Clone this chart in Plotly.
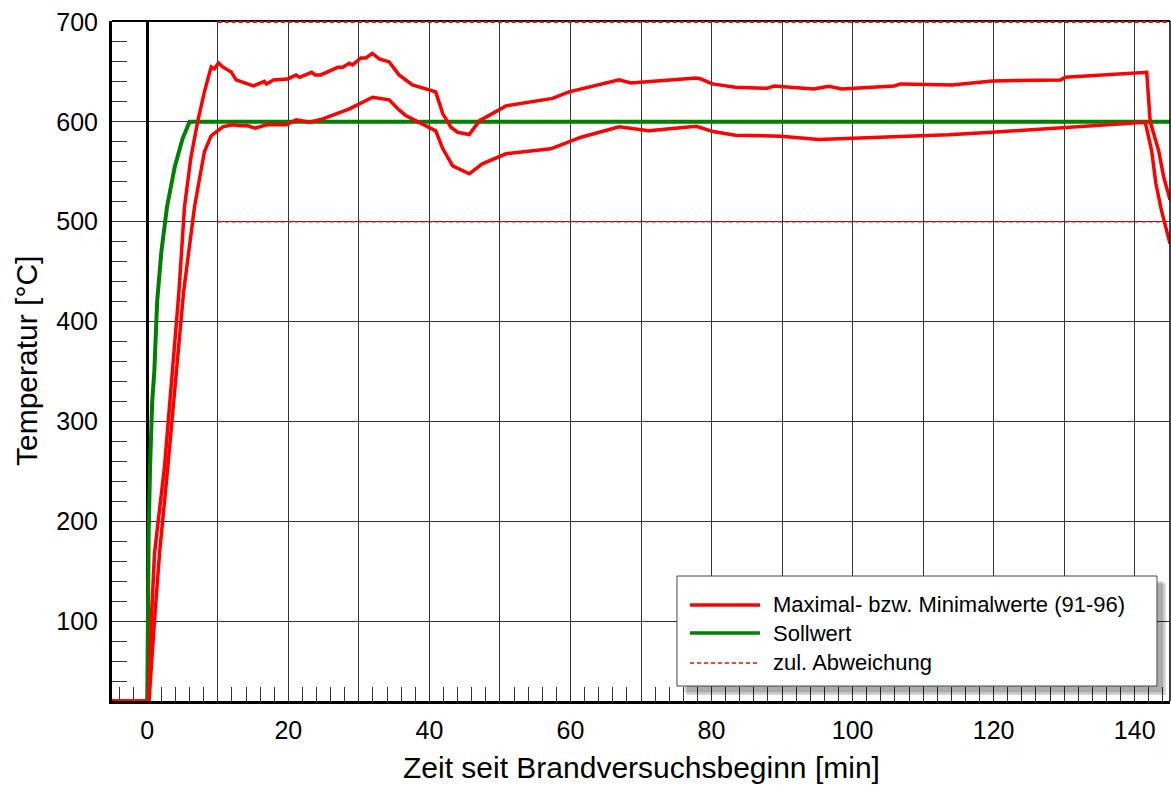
import plotly.graph_objects as go

# ---------------- data ----------------
max_t = [-5, 0, 0.2, 0.57, 1.03, 2.45, 3.4, 4.48, 5.28, 6.2, 7.17, 8.1, 9.06, 9.5, 10.1, 10.7,
         11.9, 12.6, 15.06, 16.6, 16.9, 17.9, 19.9, 21.1, 21.6, 23.3, 23.8, 24.6, 27.0, 27.7,
         28.65, 29.1, 30.3, 31.0, 31.9, 32.9, 34.3, 35.7, 37.6, 40.9, 41.9, 43.06, 44.0, 45.65,
         47.07, 50.85, 57.45, 59.8, 66.9, 68.55, 77.8, 78.5, 80.1, 83.4, 87.9, 88.85, 94.5, 96.6,
         98.5, 105.9, 106.8, 114.1, 119.8, 129.5, 130.2, 141.7, 142.2, 143.4, 144.1, 145]
max_T = [20, 20, 20, 101, 168, 255, 341, 429, 515, 565, 601, 630, 655, 653, 659, 655,
         650, 642, 636, 640.6, 638, 642, 643, 647, 644.6, 649.6, 647, 647, 654.6, 654.6,
         658.6, 657, 664, 664, 668.6, 663, 660, 647, 637, 630, 608, 594.6, 589.6, 587.3,
         601, 616, 623.5, 630, 642, 639, 644, 643, 638, 634.6, 633.6, 636, 633, 635.6,
         633, 636, 638, 637, 641, 642, 644.6, 649.6, 600, 571, 545, 522]

min_t = [-5, 0, 0.25, 1.03, 1.74, 2.92, 4.0, 5.14, 6.7, 8.1, 9.06, 10.7, 12.1, 13.1, 14.25,
         15.3, 16.9, 19.7, 21.1, 23.0, 24.9, 28.65, 31.95, 34.3, 35.7, 36.7, 40.9, 41.9, 43.3,
         45.65, 47.5, 50.85, 57.2, 61.5, 66.9, 71.1, 77.8, 80.4, 83.4, 89.8, 95.2, 99.9, 109.9,
         113.6, 119.8, 129.9, 141.5, 142.4, 143.0, 143.8, 144.8, 145]
min_T = [20, 20, 20, 101, 168, 255, 341, 429, 515, 570, 586, 595, 597, 596, 596,
         593.6, 597, 597, 602, 599.6, 603, 613, 624.6, 622, 612, 606, 591, 573, 556,
         548, 558, 568, 573, 584.6, 595, 591, 595.6, 590, 586.6, 585.6, 582.4, 583.7, 585.6,
         587, 589.6, 594.6, 599.6, 571, 538, 511, 483, 478]

soll_t = [0, 0.1, 0.2, 0.4, 0.7, 1.0, 1.4, 2.0, 2.8, 3.9, 5.0, 6.0, 145]
soll_T = [20, 120, 190, 255, 320, 350, 420, 470, 515, 555, 583, 600, 600]

tol_t = [10, 145]
tol_lo = [500, 500]
tol_hi = [700, 700]

x_tickvals = [0, 10, 20, 30, 40, 50, 60, 70, 80, 90, 100, 110, 120, 130, 140]
x_ticktext = ["0", "", "20", "", "40", "", "60", "", "80", "", "100", "", "120", "", "140"]
y_tickvals = [100, 200, 300, 400, 500, 600, 700]
y_ticktext = ["100", "200", "300", "400", "500", "600", "700"]

legend_labels = ["Maximal- bzw. Minimalwerte (91-96)", "Sollwert", "zul. Abweichung"]

RED = "#ff0000"
GREEN = "#008000"
FONT = "Liberation Sans, Arial, Helvetica, sans-serif"

# ---------------- figure ----------------
fig = go.Figure()
fig.add_trace(go.Scatter(x=tol_t, y=tol_lo, mode="lines",
                         line=dict(color=RED, width=1.5, dash="4px,3px"), showlegend=False))
fig.add_trace(go.Scatter(x=tol_t, y=tol_hi, mode="lines",
                         line=dict(color=RED, width=2, dash="4px,3px"), showlegend=False))
fig.add_trace(go.Scatter(x=soll_t, y=soll_T, mode="lines",
                         line=dict(color=GREEN, width=4), showlegend=False))
fig.add_trace(go.Scatter(x=max_t, y=max_T, mode="lines",
                         line=dict(color=RED, width=3.5), showlegend=False))
fig.add_trace(go.Scatter(x=min_t, y=min_T, mode="lines",
                         line=dict(color=RED, width=3.5), showlegend=False))

fig.update_xaxes(
    range=[-5, 145], tickmode="array", tickvals=x_tickvals, ticktext=x_ticktext,
    showgrid=True, gridcolor="#333333", gridwidth=1,
    zeroline=True, zerolinecolor="black", zerolinewidth=3,
    showline=True, linecolor="black", linewidth=3, mirror=False,
    ticks="inside", ticklen=14, tickcolor="#333333", tickwidth=1,
    minor=dict(dtick=2, tick0=0, ticks="inside", ticklen=14, tickcolor="#333333",
               tickwidth=1, showgrid=False),
    tickfont=dict(family=FONT, size=25, color="black"),
    ticklabelstandoff=5, layer="below traces",
)
fig.update_yaxes(
    range=[20, 701], tickmode="array", tickvals=y_tickvals, ticktext=y_ticktext,
    showgrid=True, gridcolor="#333333", gridwidth=1, zeroline=False,
    showline=True, linecolor="black", linewidth=3, mirror=False,
    ticks="inside", ticklen=15, tickcolor="#333333", tickwidth=1,
    minor=dict(dtick=20, tick0=0, ticks="inside", ticklen=15, tickcolor="#333333",
               tickwidth=1, showgrid=False),
    tickfont=dict(family=FONT, size=25, color="black"),
    ticklabelstandoff=6, layer="below traces",
)

shapes = [
    # top and right borders
    dict(type="line", xref="paper", yref="paper", x0=0, x1=1, y0=1, y1=1,
         line=dict(color="black", width=2), layer="below"),
    dict(type="line", xref="paper", yref="paper", x0=1, x1=1, y0=0, y1=1,
         line=dict(color="black", width=1.5), layer="above"),
    # legend shadow
    dict(type="rect", xref="paper", yref="paper", x0=0.5430, x1=0.9960, y0=0.0090, y1=0.1730,
         line=dict(width=0), fillcolor="rgba(0,0,0,0.18)", layer="above"),
    dict(type="rect", xref="paper", yref="paper", x0=0.5410, x1=0.9935, y0=0.0125, y1=0.1760,
         line=dict(width=0), fillcolor="rgba(0,0,0,0.18)", layer="above"),
    # legend box
    dict(type="rect", xref="paper", yref="paper", x0=0.5340, x1=0.9877, y0=0.0220, y1=0.1838,
         line=dict(color="#444444", width=1), fillcolor="white", layer="above"),
]
legend_rows = [0.1412, 0.1000, 0.0559]
legend_styles = [dict(color=RED, width=3.5), dict(color=GREEN, width=3.5),
                 dict(color=RED, width=1.5, dash="4px,3px")]
annotations = []
for yy, st, lab in zip(legend_rows, legend_styles, legend_labels):
    shapes.append(dict(type="line", xref="paper", yref="paper", x0=0.5463, x1=0.6125,
                       y0=yy, y1=yy, line=st, layer="above"))
    annotations.append(dict(xref="paper", yref="paper", x=0.6229, y=yy, text=lab,
                            showarrow=False, xanchor="left", yanchor="middle",
                            font=dict(family=FONT, size=22, color="black")))

annotations.append(dict(xref="paper", yref="paper", x=0.5, y=-0.0985,
                        text="Zeit seit Brandversuchsbeginn [min]", showarrow=False,
                        xanchor="center", yanchor="middle",
                        font=dict(family=FONT, size=30, color="black")))
annotations.append(dict(xref="paper", yref="paper", x=-0.0813, y=0.5,
                        text="Temperatur [°C]", showarrow=False, textangle=-90,
                        xanchor="center", yanchor="middle",
                        font=dict(family=FONT, size=30, color="black")))

fig.update_layout(
    width=1171, height=789,
    margin=dict(l=112, r=1, t=21, b=88, pad=0),
    paper_bgcolor="white", plot_bgcolor="white",
    shapes=shapes, annotations=annotations, showlegend=False,
)

fig.write_html("out.html")
